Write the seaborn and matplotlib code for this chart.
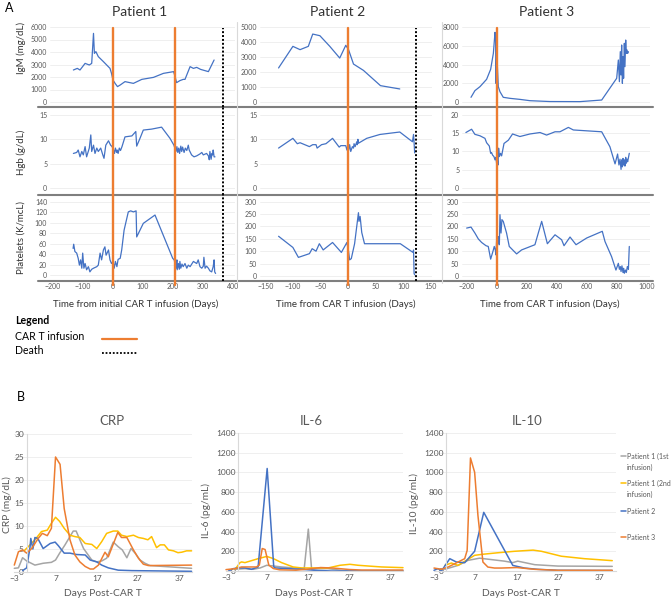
import matplotlib
matplotlib.use("Agg")
import matplotlib.pyplot as plt
import seaborn as sns
from matplotlib.lines import Line2D

# ---------------- data: panel A ----------------
p1_igm_day = [-132,-119,-110,-93,-79,-71,-65,-62,-57,-49,-32,-10,-5,0,7,15,24,40,68,96,135,168,202,207,212,223,234,240,257,268,279,292,318,337]
p1_igm_val = [2560,2690,2560,3090,2960,3090,5490,3890,4030,3630,3230,2690,2290,1760,1490,1230,1360,1630,1490,1810,1970,2290,2430,2030,1550,1710,1810,1810,2830,2690,2770,2610,2430,3360]
p1_hgb_day = [-132,-121,-116,-110,-104,-99,-93,-88,-79,-74,-71,-65,-60,-54,-49,-41,-34,-30,-24,-15,-8,-3,2,5,8,12,14,17,21,25,30,40,63,76,79,90,101,129,162,190,203,210,213,216,219,222,226,229,232,237,241,246,251,254,262,270,279,290,296,301,312,318,321,323,327,330,332,334,337,340]
p1_hgb_val = [7.1,7.3,7.8,6.4,7.5,6.8,8.5,6.4,8.2,10.9,7.5,8.8,7.1,8.2,7.5,8.2,6.8,6.1,8.8,9.7,8.8,8.5,7.8,7.1,8.2,7.3,7.8,7.1,8.2,7.7,8.5,10.5,10.7,11.6,8.6,10.2,11.9,12.1,12.5,10.2,8.8,7.5,8.5,7.3,8.2,7.1,8.6,7.5,8.4,7.3,8.2,7.7,8.8,7.8,6.8,6.4,6.6,7.0,7.3,6.8,7.1,6.6,5.8,7.5,5.9,7.1,6.8,7.8,6.4,6.4]
p1_plt_day = [-133,-131,-127,-121,-116,-112,-108,-104,-101,-97,-93,-88,-82,-77,-71,-65,-54,-49,-43,-38,-32,-27,-23,-15,-10,-5,0,4,8,13,17,24,29,37,51,59,68,77,79,101,140,199,204,210,213,214,218,221,223,226,230,234,240,246,251,257,268,279,284,290,296,301,303,307,312,318,323,329,334,337,339,342]
p1_plt_val = [51,59,45,42,32,19,29,13,42,13,22,10,16,6,11,13,16,19,42,29,48,54,38,48,29,22,26,13,26,16,30,32,48,86,121,123,121,123,73,99,115,32,29,13,29,10,22,11,26,13,21,16,22,13,19,16,26,22,29,16,13,17,34,13,17,13,8,6,16,29,6,3]

p2_igm_day = [-126,-100,-87,-72,-64,-51,-33,-15,-4,1,10,28,59,94]
p2_igm_val = [2270,3710,3490,3710,4530,4420,3710,2930,3780,3490,2530,2110,1090,870]
p2_hgb_day = [-126,-100,-92,-87,-70,-64,-58,-56,-48,-40,-28,-16,-13,-4,-2,0,1,3,5,8,10,11,13,16,17,18,19,34,58,94,117,119,120,121]
p2_hgb_val = [8.2,10.2,9.1,9.3,8.5,8.9,8.9,8.2,8.9,9.1,10.2,8.4,8.7,8.7,7.8,8.9,7.7,8.9,7.5,8.5,8.2,9.1,8.5,9.5,8.9,10.0,9.2,10.2,11.0,11.5,9.5,11.0,9.3,7.2]
p2_plt_day = [-126,-100,-90,-70,-65,-58,-52,-45,-28,-12,-2,1,3,6,12,19,20,22,25,30,95,118,119,120,121]
p2_plt_val = [160,115,75,90,110,100,130,105,135,95,135,100,65,70,130,255,220,240,175,130,130,95,105,10,5]

p3_igm_day = [-173,-147,-113,-69,-42,-24,-13,-9,-7,-2,2,9,20,42,87,153,220,353,553,698,798,809,816,822,827,831,836,840,844,849,853,858,862,867,871,876]
p3_igm_val = [500,1210,1640,2420,3490,5190,7430,6610,1990,4840,4130,1640,1100,500,390,280,140,50,40,210,2530,4480,2170,5370,2880,6080,1990,4840,2530,6260,3770,6610,5190,5550,5190,5370]
p3_hgb_day = [-207,-169,-147,-113,-80,-69,-51,-42,-36,-29,-20,-13,-7,-2,2,7,11,16,24,31,47,76,104,153,220,287,331,387,420,476,509,698,753,787,804,813,820,827,831,836,840,844,849,853,858,862,867,871,882]
p3_hgb_val = [15.2,16.1,14.7,14.3,13.6,12.4,11.5,9.5,9.7,9.0,8.6,7.7,8.4,6.6,8.1,6.3,10.9,8.6,9.5,8.8,12.2,13.1,14.8,14.1,14.8,15.2,14.5,15.4,15.4,16.6,15.9,15.4,11.3,6.6,9.3,6.3,7.9,5.1,7.7,5.8,8.1,6.3,7.7,6.0,8.4,6.8,7.9,7.2,9.5]
p3_plt_day = [-202,-173,-147,-124,-102,-73,-58,-42,-24,-18,-11,-7,-2,2,9,16,20,27,33,42,64,82,131,164,253,298,336,387,431,447,487,527,598,702,720,764,793,809,816,822,827,833,840,844,849,856,862,869,876,882]
p3_plt_val = [193,197,173,149,135,122,119,68,105,119,105,85,146,112,159,126,247,173,227,220,173,119,89,105,126,220,130,166,146,122,157,126,153,180,139,78,24,51,27,38,18,41,14,31,11,24,14,38,27,119]

infusions = {"Patient 1": [0, 207], "Patient 2": [0], "Patient 3": [0]}
deaths = {"Patient 1": 367, "Patient 2": 123, "Patient 3": None}

# ---------------- data: panel B ----------------
crp_p1a_day = [-3,-2,-1,0,2,4,6,7,8,9.3,10.5,11.3,12,12.9,13.8,14.6,15.8,17,18.2,19.4,21,22.2,23.2,24.3,25.3,26.3,27.5,28.7,29.9,40]
crp_p1a_val = [0.8,0.9,3.1,2.4,1.5,1.9,2.1,2.6,4.1,5.9,7.7,8.9,8.9,7.0,5.1,4.1,2.6,2.2,2.4,3.0,6.5,5.5,4.8,3.1,5.1,4.1,2.6,1.9,1.4,0.8]
crp_p1b_day = [-0.5,2,3.6,5,6,7,8,9.1,10.5,11.7,12.9,14.2,15.8,17,18.2,19.4,21,22.1,23,24.3,25.9,27.1,28.3,29.4,30.3,31.5,32.4,33.4,34.4,35.6,36.7,37.6,38.8,40]
crp_p1b_val = [4.7,7.0,8.8,9.1,10.6,11.9,11.0,9.5,8.0,7.7,7.5,6.2,6.0,5.1,6.6,8.4,8.9,8.9,8.0,7.7,8.0,7.5,7.3,7.0,7.7,5.3,5.9,5.9,4.8,4.6,4.2,4.3,4.6,4.6]
crp_p2_day = [-1,0,0.8,1,1.5,2,2.7,4,5.7,6.9,7.7,9.1,10.5,12.1,14.2,15.4,17,18.2,19.8,22.2,25.5,40]
crp_p2_val = [0.3,0.9,5.3,7.3,5.0,7.5,7.3,5.1,6.2,6.5,5.7,4.1,4.1,3.8,3.7,2.6,2.2,1.5,0.9,0.4,0.3,0.15]
crp_p3_day = [-3,-2,-1,0,1.2,2.8,3.8,5,6,7,8.1,9.1,10.5,11.7,12.9,14.2,15.4,16.2,17.4,19,19.8,22.1,23,24.3,25.9,27.1,28.3,29.5,40]
crp_p3_val = [1.5,4.4,4.8,4.1,5.1,7.3,8.4,7.9,9.5,25,23.4,13.8,7.0,3.7,2.2,1.2,0.65,0.65,1.5,4.3,3.3,8.6,7.5,7.5,4.8,3.0,1.7,1.4,1.5]

il6_p1a_day = [-0.8,1.6,3.6,5.3,6.9,8.5,10.5,13.7,16,17,17.8,19.4,21.8,25,28,40]
il6_p1a_val = [17,24,17,31,58,51,41,31,24,425,17,24,24,7,0,0]
il6_p1b_day = [-0.8,0.4,0.8,1.6,3.2,4.8,6.9,8.5,10.5,13.3,15.4,18.6,21.8,24.7,27.1,29.1,32.4,34.8,40]
il6_p1b_val = [17,85,92,85,105,125,148,126,85,41,31,31,31,58,68,58,48,41,34]
il6_p2_day = [-2.4,-1.2,0,1.6,3.2,4.8,7,8.6,9,12,15.4,18.6,22.6,40]
il6_p2_val = [0,24,31,31,17,41,1040,41,31,24,17,7,0,0]
il6_p3_day = [-3,-0.8,0.8,2.4,4.4,5.1,5.8,6.5,7.4,8.5,10,14,17,20,23,27,30,40]
il6_p3_val = [14,24,41,41,41,60,228,218,60,25,12,8,20,35,30,15,10,10]

il10_p1a_day = [-0.4,2.8,5.2,8,10,14,16,17.2,21.3,26.9,40]
il10_p1a_val = [17,57,108,130,120,100,85,100,64,50,47]
il10_p1b_day = [-0.4,1.2,2.8,4.8,6.8,8.8,12.4,16.4,20.9,22.9,27.7,33.3,40]
il10_p1b_val = [57,81,57,108,159,170,185,200,212,200,150,125,105]
il10_p2_day = [-3,-2,-1.2,0.8,2.4,4.4,6.8,9,16,18.8,22,26.9,40]
il10_p2_val = [7,24,0,125,91,84,200,595,57,30,17,7,5]
il10_p3_day = [-3,-1.2,0.4,2.8,4.4,5,5.8,6.8,7.6,8.8,10,11.6,13.2,17,21.3,26.9,40]
il10_p3_val = [30,17,40,91,125,209,1147,1002,563,91,40,30,30,35,17,7,7]

series_names = ["Patient 1 (1st\ninfusion)", "Patient 1 (2nd\ninfusion)", "Patient 2", "Patient 3"]

# ---------------- styling ----------------
sns.set_theme(style="white")
plt.rcParams["font.family"] = ["Lato", "DejaVu Sans"]

BLUE = "#4472C4"
ORANGE = "#ED7D31"
GRAY = "#A5A5A5"
YELLOW = "#FFC000"
TICK = "#595959"
DARK = "#333333"

W, H = 672, 600
fig = plt.figure(figsize=(6.72, 6.0), dpi=100)


def px_axes(x0, y0, x1, y1):
    return fig.add_axes([x0 / W, 1 - y1 / H, (x1 - x0) / W, (y1 - y0) / H])


def fx(x):
    return x / W


def fy(y):
    return 1 - y / H


# ---------------- panel A ----------------
cols = [
    dict(name="Patient 1", x0=50, x1=235, xlim=(-210, 406.7), xticks=range(-200, 401, 100),
         xlabel="Time from initial CAR T infusion (Days)", xl=136, title_x=140,
         data=[(p1_igm_day, p1_igm_val), (p1_hgb_day, p1_hgb_val), (p1_plt_day, p1_plt_val)],
         ylims=[(-400, 6560), (-1.44, 16.64), (-11.5, 153.4)],
         yticks=[range(0, 6001, 1000), range(0, 16, 5), range(0, 141, 20)]),
    dict(name="Patient 2", x0=260, x1=432, xlim=(-159.7, 152.5), xticks=range(-150, 151, 50),
         xlabel="Time from CAR T infusion (Days)", xl=346, title_x=338,
         data=[(p2_igm_day, p2_igm_val), (p2_hgb_day, p2_hgb_val), (p2_plt_day, p2_plt_val)],
         ylims=[(-333, 5467), (-1.44, 16.64), (-20.1, 326.2)],
         yticks=[range(0, 5001, 1000), range(0, 16, 5), range(0, 301, 50)]),
    dict(name="Patient 3", x0=462, x1=650, xlim=(-233, 1020), xticks=range(-200, 1001, 200),
         xlabel="Time from CAR T infusion (Days)", xl=550, title_x=547,
         data=[(p3_igm_day, p3_igm_val), (p3_hgb_day, p3_hgb_val), (p3_plt_day, p3_plt_val)],
         ylims=[(-533, 8747), (-1.92, 22.19), (-20.1, 326.2)],
         yticks=[range(0, 8001, 2000), range(0, 21, 5), range(0, 301, 50)]),
]
rows = [(20, 107), (107, 195), (195, 281)]

for c in cols:
    for r, (y0, y1) in enumerate(rows):
        ax = px_axes(c["x0"], y0, c["x1"], y1)
        ax.set_facecolor("none")
        for s in ax.spines.values():
            s.set_visible(False)
        d, v = c["data"][r]
        sns.lineplot(x=d, y=v, ax=ax, sort=False, estimator=None, color=BLUE, lw=0.9, legend=False)
        ax.set_xlim(*c["xlim"])
        ax.set_ylim(*c["ylims"][r])
        ax.set_yticks(list(c["yticks"][r]))
        ax.set_xticks(list(c["xticks"]))
        ax.grid(axis="y", color="#ededed", lw=0.6)
        ax.grid(axis="x", visible=False)
        ax.set_axisbelow(True)
        ax.tick_params(labelsize=5.0, colors=TICK, length=0, pad=2)
        ax.set_xlabel("")
        ax.set_ylabel("")
        if r < 2:
            ax.tick_params(labelbottom=False)
        else:
            ax.tick_params(axis="x", pad=1.5)
        ymax = (y1 - 28) / (y1 - y0) if r == 0 else 1
        ymin = -(285 - 281) / (y1 - y0) if r == 2 else 0
        for inf in infusions[c["name"]]:
            ax.axvline(inf, ymin=ymin, ymax=ymax, color=ORANGE, lw=1.7, zorder=3, clip_on=False)
        if deaths[c["name"]] is not None:
            ax.axvline(deaths[c["name"]], ymin=0, ymax=ymax, color="black", lw=1.4,
                       ls=(0, (1, 1)), zorder=3, clip_on=False)
    fig.text(fx(c["title_x"]), fy(12), c["name"], ha="center", va="center", fontsize=10, color=DARK)
    fig.text(fx(c["xl"]), fy(304), c["xlabel"], ha="center", va="center", fontsize=7, color=DARK)

# separators and column borders
for yy in (107, 195, 281):
    fig.add_artist(Line2D([fx(38), fx(653)], [fy(yy), fy(yy)], color="#7f7f7f", lw=1.5, zorder=-1))
for xx in (237, 442):
    fig.add_artist(Line2D([fx(xx), fx(xx)], [fy(22), fy(283)], color="#d9d9d9", lw=0.8, zorder=-1))

for label, yc in (("IgM (mg/dL)", 48), ("Hgb (g/dL)", 152), ("Platelets (K/mcL)", 237)):
    fig.text(fx(21), fy(yc), label, rotation=90, ha="center", va="center", fontsize=7, color=DARK)

fig.text(fx(5), fy(8), "A", ha="left", va="center", fontsize=9, color="black")
fig.text(fx(15), fy(321), "Legend", ha="left", va="center", fontsize=7.6, weight="bold", color="black")
fig.text(fx(15), fy(336), "CAR T infusion", ha="left", va="center", fontsize=7.6, color="black")
fig.text(fx(15), fy(350), "Death", ha="left", va="center", fontsize=7.6, color="black")
fig.add_artist(Line2D([fx(102), fx(137)], [fy(338.5), fy(338.5)], color=ORANGE, lw=1.6))
fig.add_artist(Line2D([fx(102), fx(137)], [fy(353), fy(353)], color="black", lw=1.3, ls=(0, (1, 1))))

# ---------------- panel B ----------------
fig.text(fx(17), fy(397), "B", ha="left", va="center", fontsize=9, color="black")

bcharts = [
    dict(title="CRP", box=(14.3, 434, 192, 572), xlim=(-3, 40.1), ylim=(0, 30), yticks=range(0, 31, 5),
         ylabel="CRP (mg/dL)", ylx=7, yly=505, tx=112, xlx=103,
         series=[(crp_p1a_day, crp_p1a_val), (crp_p1b_day, crp_p1b_val),
                 (crp_p2_day, crp_p2_val), (crp_p3_day, crp_p3_val)]),
    dict(title="IL-6", box=(226, 433, 403, 571), xlim=(-3, 40), ylim=(0, 1400), yticks=range(0, 1401, 200),
         ylabel="IL-6 (pg/mL)", ylx=206, yly=510, tx=311, xlx=314,
         series=[(il6_p1a_day, il6_p1a_val), (il6_p1b_day, il6_p1b_val),
                 (il6_p2_day, il6_p2_val), (il6_p3_day, il6_p3_val)]),
    dict(title="IL-10", box=(434, 433, 616, 571), xlim=(-3, 40.9), ylim=(0, 1400), yticks=range(0, 1401, 200),
         ylabel="IL-10 (pg/mL)", ylx=414, yly=503, tx=527, xlx=521,
         series=[(il10_p1a_day, il10_p1a_val), (il10_p1b_day, il10_p1b_val),
                 (il10_p2_day, il10_p2_val), (il10_p3_day, il10_p3_val)]),
]
bcolors = [GRAY, YELLOW, BLUE, ORANGE]

for b in bcharts:
    ax = px_axes(*b["box"])
    ax.set_facecolor("none")
    for (d, v), col in zip(b["series"], bcolors):
        sns.lineplot(x=d, y=v, ax=ax, sort=False, estimator=None, color=col, lw=1.1, legend=False)
    for ln in ax.lines:
        ln.set_clip_on(False)
    ax.set_xlim(*b["xlim"])
    ax.set_ylim(*b["ylim"])
    ax.set_yticks(list(b["yticks"]))
    ax.set_xticks([-3, 7, 17, 27, 37])
    ax.spines["top"].set_visible(False)
    ax.spines["right"].set_visible(False)
    ax.spines["left"].set_position(("data", 0))
    ax.spines["left"].set_color("#d9d9d9")
    ax.spines["left"].set_linewidth(0.8)
    ax.spines["bottom"].set_color("#d9d9d9")
    ax.spines["bottom"].set_linewidth(0.8)
    ax.grid(axis="y", color="#ededed", lw=0.6)
    ax.grid(axis="x", visible=False)
    ax.set_axisbelow(True)
    ax.tick_params(labelsize=6.0, colors=TICK, length=0, pad=2)
    ax.set_xlabel("")
    ax.set_ylabel("")
    fig.text(fx(b["tx"]), fy(421), b["title"], ha="center", va="center", fontsize=9.5, color=TICK)
    fig.text(fx(b["xlx"]), fy(593), "Days Post-CAR T", ha="center", va="center", fontsize=7.4, color=TICK)
    fig.text(fx(b["ylx"]), fy(b["yly"]), b["ylabel"], rotation=90, ha="center", va="center",
             fontsize=7.4, color=TICK)

# legend for panel B
for name, col, yy in zip(series_names, bcolors, (456, 483, 511, 537)):
    fig.add_artist(Line2D([fx(621), fx(626)], [fy(yy), fy(yy)], color=col, lw=1.1))
    lines = name.split("\n")
    for k, t in enumerate(lines):
        fig.text(fx(627), fy(yy + 11 * k), t, ha="left", va="center", fontsize=5.0, color=TICK)

fig.savefig("out.png", dpi=100)
